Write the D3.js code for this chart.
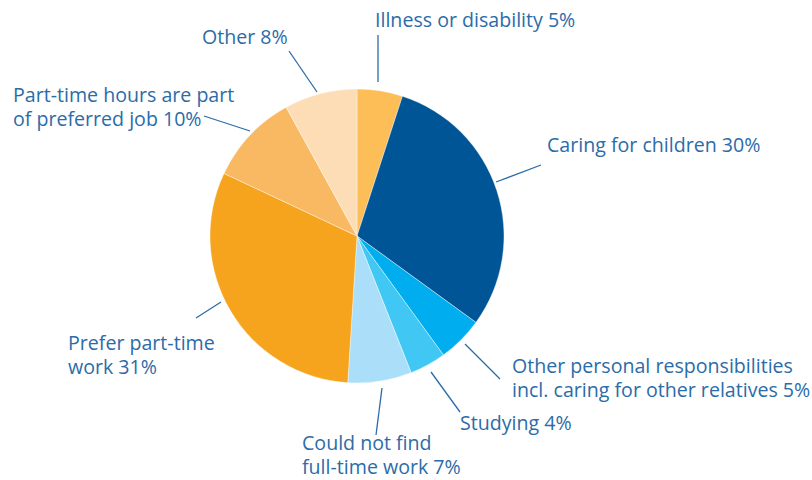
<!DOCTYPE html>
<html>
<head>
<meta charset="utf-8">
<script src="https://cdn.jsdelivr.net/npm/d3@7/dist/d3.min.js"></script>
<style>
  html, body { margin: 0; padding: 0; background: #fff; }
  svg text { font-family: "Open Sans", "Noto Sans", sans-serif; }
</style>
</head>
<body>
<svg id="chart" width="812" height="480"></svg>
<script>
// Reasons for working part-time (share of respondents, %), clockwise from 12 o'clock
const reasons = [
  "Illness or disability",
  "Caring for children",
  "Other personal responsibilities incl. caring for other relatives",
  "Studying",
  "Could not find full-time work",
  "Prefer part-time work",
  "Part-time hours are part of preferred job",
  "Other"
];
const shares = [5, 30, 5, 4, 7, 31, 10, 8];
const sliceColors = ["#FDBE57", "#005596", "#00AEEF", "#40C7F4", "#ABDFF9", "#F6A31E", "#F9B963", "#FDDDB5"];

// Label text lines (value appended to the last line)
const labelLines = [
  ["Illness or disability"],
  ["Caring for children"],
  ["Other personal responsibilities", "incl. caring for other relatives"],
  ["Studying"],
  ["Could not find", "full-time work"],
  ["Prefer part-time", "work"],
  ["Part-time hours are part", "of preferred job"],
  ["Other"]
];

// Label layout: text anchor point (x, first baseline) and leader line ends
const labelLayout = [
  { tx: 375, ty: 27,  l: [[378, 35], [378, 82]] },
  { tx: 547, ty: 152, l: [[541, 165], [496, 182]] },
  { tx: 512, ty: 373, l: [[500, 379], [465, 344]] },
  { tx: 460, ty: 430, l: [[460, 412], [431, 372]] },
  { tx: 302, ty: 450, l: [[376, 435], [382, 388]] },
  { tx: 68,  ty: 350, l: [[196, 318], [221, 302]] },
  { tx: 13,  ty: 102, l: [[204, 116], [250, 131]] },
  { tx: 202, ty: 44,  l: [[289, 51], [317, 92]] }
];

const svg = d3.select("#chart");
const cx = 357, cy = 236, radius = 147;
const textColor = "#2B6CA8";
const lineHeight = 24;

const data = reasons.map((r, i) => ({ reason: r, value: shares[i], color: sliceColors[i], lines: labelLines[i], layout: labelLayout[i] }));

const pie = d3.pie().value(d => d.value).sort(null);
const arc = d3.arc().innerRadius(0).outerRadius(radius);

const g = svg.append("g").attr("transform", `translate(${cx},${cy})`);
g.selectAll("path.slice")
  .data(pie(data))
  .join("path")
  .attr("class", "slice")
  .attr("d", arc)
  .attr("fill", d => d.data.color)
  .attr("stroke", "#ffffff")
  .attr("stroke-width", 0.4);

// Leader lines
svg.selectAll("line.leader")
  .data(data)
  .join("line")
  .attr("class", "leader")
  .attr("x1", d => d.layout.l[0][0])
  .attr("y1", d => d.layout.l[0][1])
  .attr("x2", d => d.layout.l[1][0])
  .attr("y2", d => d.layout.l[1][1])
  .attr("stroke", textColor)
  .attr("stroke-width", 1.3);

// Labels
const labels = svg.selectAll("text.label")
  .data(data)
  .join("text")
  .attr("class", "label")
  .attr("x", d => d.layout.tx)
  .attr("y", d => d.layout.ty)
  .attr("fill", textColor)
  .attr("font-size", 19.6);

labels.each(function (d) {
  const t = d3.select(this);
  d.lines.forEach((line, i) => {
    const last = i === d.lines.length - 1;
    t.append("tspan")
      .attr("x", d.layout.tx)
      .attr("dy", i === 0 ? 0 : lineHeight)
      .text(last ? `${line} ${d.value}%` : line);
  });
});
</script>
</body>
</html>
